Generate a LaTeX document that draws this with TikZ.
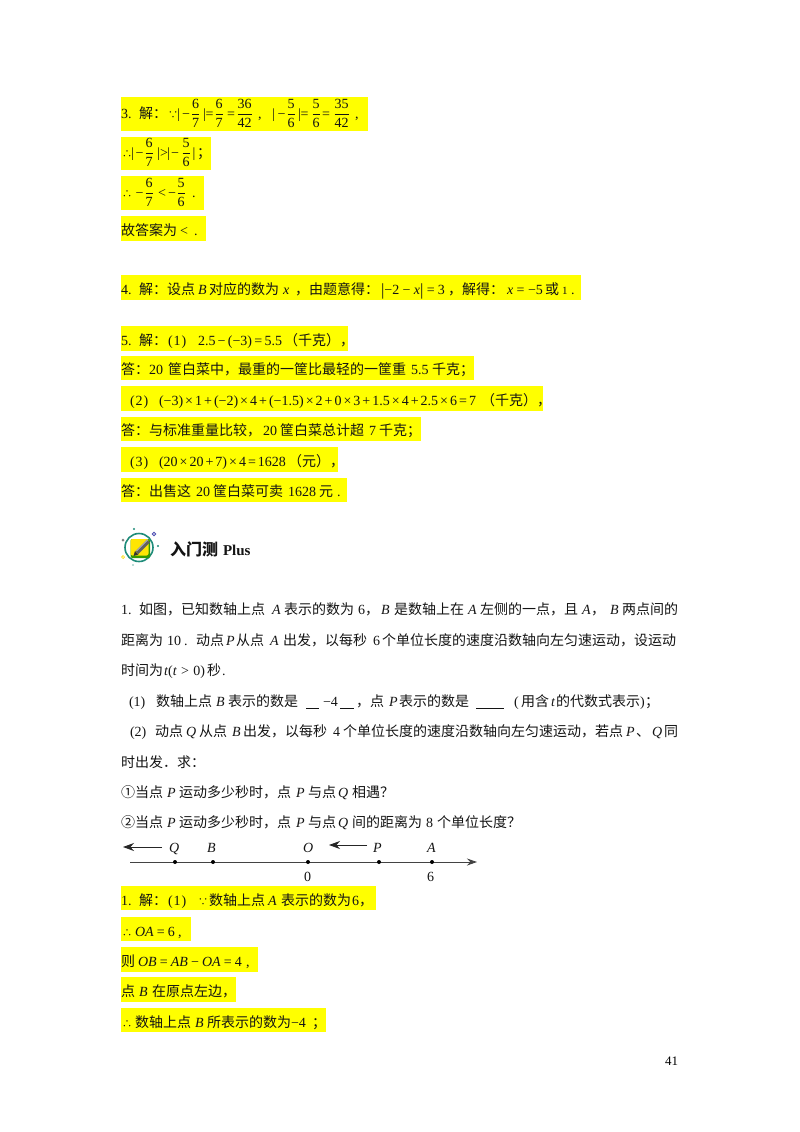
\documentclass[tikz,border=0pt]{standalone}
\usetikzlibrary{arrows.meta}
\usepackage{amsmath}
\usepackage{fontspec}
\setmainfont{Liberation Serif}
\newfontfamily\cjk{Noto Sans CJK SC}
\definecolor{hly}{RGB}{255,255,0}
\definecolor{ink}{RGB}{20,20,20}
\definecolor{ringteal}{RGB}{30,140,122}
\newcounter{tn}
\def\by{0}
\newcommand{\setb}[1]{\def\by{#1}}
\newcommand{\zh}[2]{\stepcounter{tn}\node[txt] (t\arabic{tn}) at (#1,\by) {\cjk #2};}
\newcommand{\dotsym}[2]{\stepcounter{tn}\node[txt] (t\arabic{tn}) at (#1,\by) {\cjk\fontsize{10}{10}\selectfont #2};}
\newcommand{\rmt}[2]{\stepcounter{tn}\node[txt] (t\arabic{tn}) at (#1,\by) {#2};}
\newcommand{\itx}[2]{\stepcounter{tn}\node[txt] (t\arabic{tn}) at (#1,\by) {\itshape #2};}
\newcommand{\wdt}[3]{\stepcounter{tn}\node[txt] (t\arabic{tn}) at (#1,\by) {\hbox to #2pt{\spaceskip=0pt plus 1fil #3}};}
\newcommand{\fr}[2]{$\displaystyle\frac{\hbox{\fontsize{14}{14}\selectfont #1}}{\hbox{\fontsize{14}{14}\selectfont #2}}$}
\newcommand{\hlb}[4]{\fill[hly] (#1,#3) rectangle (#2,#4);}
\newcommand{\tallbar}{\raisebox{-1.2pt}{\fontsize{17}{17}\selectfont|}}
\newcommand{\pn}[1]{(\kern1pt #1\kern1pt)}
\begin{document}
\begin{tikzpicture}[x=1pt,y=-1pt,
  txt/.style={anchor=base west,inner sep=0pt,outer sep=0pt,text=ink,font=\fontsize{14}{16}\selectfont},
  axisline/.style={draw=ink!80,line width=0.9pt},
  dotmark/.style={circle,fill=black,inner sep=0pt,minimum size=4pt},
  tiparrow/.style={draw=black!85,line width=0.8pt,-{Stealth[length=11pt,width=8pt]}},
  pagenum/.style={anchor=base west,inner sep=0pt,font=\fontsize{13}{15}\selectfont}]
\useasboundingbox (0,0) rectangle (800,1132);
\fill[white] (0,0) rectangle (800,1132);
% highlights
\hlb{121}{368}{97}{131}
\hlb{121}{211}{137}{170}
\hlb{121}{204}{176}{210}
\hlb{121}{206}{216}{241}
\hlb{121}{581}{275}{300}
\hlb{121}{348}{326}{351}
\hlb{121}{474}{356}{380}
\hlb{121}{543}{386}{411}
\hlb{121}{421}{417}{441}
\hlb{121}{338}{447}{472}
\hlb{121}{347}{478}{502}
\hlb{121}{376}{886}{910}
\hlb{121}{191}{917}{941}
\hlb{121}{258}{947}{972}
\hlb{121}{236}{977}{1002}
\hlb{121}{326}{1008}{1032}
% item 3
\setb{118}
\rmt{121}{3.}\zh{139}{解：}
\dotsym{168}{∵}\rmt{177}{|}\rmt{182}{−}\rmt{191}{\fr{6}{7}}\rmt{203}{|}\rmt{205.5}{=}\rmt{214.5}{\fr{6}{7}}\rmt{227}{=}\rmt{236.5}{\fr{36}{42}}\rmt{258}{,}
\rmt{272}{|}\rmt{277.5}{−}\rmt{286.5}{\fr{5}{6}}\rmt{298}{|}\rmt{300.5}{=}\rmt{311.5}{\fr{5}{6}}\rmt{322}{=}\rmt{333.5}{\fr{35}{42}}\rmt{355}{,}
\setb{157}
\dotsym{122}{∴}\rmt{131}{|}\rmt{135.5}{−}\rmt{144.5}{\fr{6}{7}}\rmt{157}{|}\rmt{160}{>}\rmt{167}{|}\rmt{171}{−}\rmt{181.5}{\fr{5}{6}}\rmt{192.5}{|}\zh{197}{；}
\setb{197}
\dotsym{122}{∴}\rmt{135.5}{−}\rmt{144.5}{\fr{6}{7}}\rmt{158}{<}\rmt{168}{−}\rmt{176.5}{\fr{5}{6}}\rmt{192}{.}
\setb{235}
\zh{121}{故答案为}\rmt{180}{<}\rmt{194}{.}
% item 4
\setb{294}
\rmt{121}{4.}\zh{139}{解：}\zh{167}{设点}\itx{198}{B}\zh{209}{对应的数为}\itx{283}{x}\zh{295}{，}\zh{309}{由题意得：}
\wdt{381}{64}{\tallbar −2 − \textit{x}\tallbar{} = 3}\zh{448}{，}\zh{462}{解得：}\wdt{507}{36}{\textit{x} = −5}\zh{545}{或}\rmt{562}{\fontsize{11}{11}\selectfont 1}\rmt{571}{.}
% item 5
\setb{345}
\rmt{121}{5.}\zh{139}{解：}\rmt{168}{\pn{1}}\wdt{198}{84}{2.5 − (−3) = 5.5}\zh{284}{（千克），}
\setb{374}
\zh{121}{答：}\rmt{149}{20}\zh{168}{筐白菜中，最重的一筐比最轻的一筐重}\rmt{411}{5.5}\zh{432}{千克；}
\setb{405}
\rmt{130}{\pn{2}}\wdt{159}{317}{(−3) × 1 + (−2) × 4 + (−1.5) × 2 + 0 × 3 + 1.5 × 4 + 2.5 × 6 = 7}\zh{481}{（千克），}
\setb{435}
\zh{121}{答：与标准重量比较，}\rmt{263}{20}\zh{280}{筐白菜总计超}\rmt{369}{7}\zh{379}{千克；}
\setb{466}
\rmt{130}{\pn{3}}\wdt{159}{127}{(20 × 20 + 7) × 4 = 1628}\zh{288}{（元），}
\setb{496}
\zh{121}{答：出售这}\rmt{196}{20}\zh{213}{筐白菜可卖}\rmt{288}{1628}\zh{319}{元}\rmt{337}{.}
% heading
\begin{scope}
\draw[ringteal,line width=1.6pt] (139,547.5) circle (14);
\fill[green!50!black!80!yellow,rounded corners=2pt] (130.5,539) rectangle (150,558);
\fill[yellow!88!orange,rounded corners=2pt] (130.5,539) rectangle (148.5,555.5);
\draw[black!62,line width=4pt] (137,552.5) -- (148.5,541);
\draw[black!28,line width=1pt] (136.5,551) -- (148,539.5);
\fill[black!80] (133.5,556) -- (135,551) -- (138.5,554.5) -- cycle;
\fill[ringteal] (134,529) circle (1.2);
\draw[blue!40!gray,line width=0.8pt] (154,534) circle (1.8);
\fill[black!50] (123,540) circle (1.5);
\fill[ringteal] (158,546) circle (1.2);
\draw[yellow!80!orange,line width=0.7pt] (123,557) circle (1.5);
\fill[ringteal!60] (133,565) circle (0.8);
\end{scope}
\setb{555}
\node[txt,font=\fontsize{16}{18}\selectfont\bfseries] (head1) at (170,\by) {\cjk 入门测};
\node[txt,font=\fontsize{15}{17}\selectfont\bfseries] (head2) at (223,\by) {Plus};
% question
\setb{614}
\rmt{121}{1.}\zh{139}{如图，已知数轴上点}\itx{272}{A}\zh{284}{表示的数为}\rmt{358}{6}\zh{365}{，}\itx{381}{B}\zh{394}{是数轴上在}\itx{468}{A}\zh{480}{左侧的一点，且}\itx{582}{A}\zh{591}{，}\itx{610}{B}\zh{622}{两点间的}
\setb{645}
\zh{121}{距离为}\rmt{167}{10}\rmt{184}{.}\zh{196}{动点}\itx{226}{P}\zh{236}{从点}\itx{270}{A}\zh{283}{出发，以每秒}\rmt{373}{6}\zh{382}{个单位长度的速度沿数轴向左匀速运动，设运动}
\setb{675}
\zh{121}{时间为}\wdt{164}{41}{\textit{t}(\textit{t} > 0)}\zh{207}{秒}\rmt{222}{.}
\setb{706}
\rmt{129}{(1)}\zh{156}{数轴上点}\itx{216}{B}\zh{228}{表示的数是}\rmt{323}{−4}\zh{356}{，点}\itx{389}{P}\zh{399}{表示的数是}\rmt{514}{(}\zh{521}{用含}\itx{551}{t}\zh{556}{的代数式表示}\rmt{640}{)}\zh{645}{；}
\draw[ink,line width=0.6pt] (306,708) -- (319,708) (340,708) -- (354,708) (476,708) -- (504,708);
\setb{736}
\rmt{130}{(2)}\zh{155}{动点}\itx{186}{Q}\zh{199}{从点}\itx{232}{B}\zh{243}{出发，以每秒}\rmt{333}{4}\zh{343}{个单位长度的速度沿数轴向左匀速运动，若点}\itx{626}{P}\zh{636}{、}\itx{652}{Q}\zh{664}{同}
\setb{767}
\zh{121}{时出发．求：}
\setb{797}
\zh{121}{①当点}\itx{167}{P}\zh{179}{运动多少秒时，点}\itx{296}{P}\zh{308}{与点}\itx{338}{Q}\zh{352}{相遇？}
\setb{827}
\zh{121}{②当点}\itx{167}{P}\zh{179}{运动多少秒时，点}\itx{296}{P}\zh{308}{与点}\itx{338}{Q}\zh{352}{间的距离为}\rmt{426}{8}\zh{437}{个单位长度？}
% number line
\coordinate (axL) at (130,862);
\coordinate (axR) at (477,862);
\draw[axisline,-{Stealth[length=10pt,width=7pt]}] (axL) -- (axR);
\node[dotmark] (dQ) at (175,862) {};
\node[dotmark] (dB) at (213,862) {};
\node[dotmark] (dO) at (308,862) {};
\node[dotmark] (dP) at (379,862) {};
\node[dotmark] (dA) at (432,862) {};
\setb{852}
\itx{169}{Q}\itx{207}{B}\itx{303}{O}\itx{373}{P}\itx{427}{A}
\setb{881}
\rmt{304}{0}\rmt{427}{6}
\coordinate (qs) at (162,847);
\coordinate (qe) at (123,847);
\coordinate (ps) at (367,845);
\coordinate (pe) at (329,845);
\draw[tiparrow] (qs) -- (qe);
\draw[tiparrow] (ps) -- (pe);
% solution
\setb{905}
\rmt{121}{1.}\zh{139}{解：}\rmt{168}{\pn{1}}\dotsym{198}{∵}\zh{209}{数轴上点}\itx{268}{A}\zh{281}{表示的数为}\rmt{352}{6}\zh{359}{，}
\setb{936}
\dotsym{122}{∴}\wdt{135}{40}{\textit{OA} = 6}\rmt{178}{,}
\setb{966}
\zh{121}{则}\wdt{138}{104}{\textit{OB} = \textit{AB} − \textit{OA} = 4}\rmt{246}{,}
\setb{996}
\zh{121}{点}\itx{139}{B}\zh{152}{在原点左边，}
\setb{1027}
\dotsym{122}{∴}\zh{135}{数轴上点}\itx{195}{B}\zh{207}{所表示的数为}\rmt{291}{−4}\zh{312}{；}
% page number
\node[pagenum] (pg) at (665,1065) {41};
\end{tikzpicture}
\end{document}
